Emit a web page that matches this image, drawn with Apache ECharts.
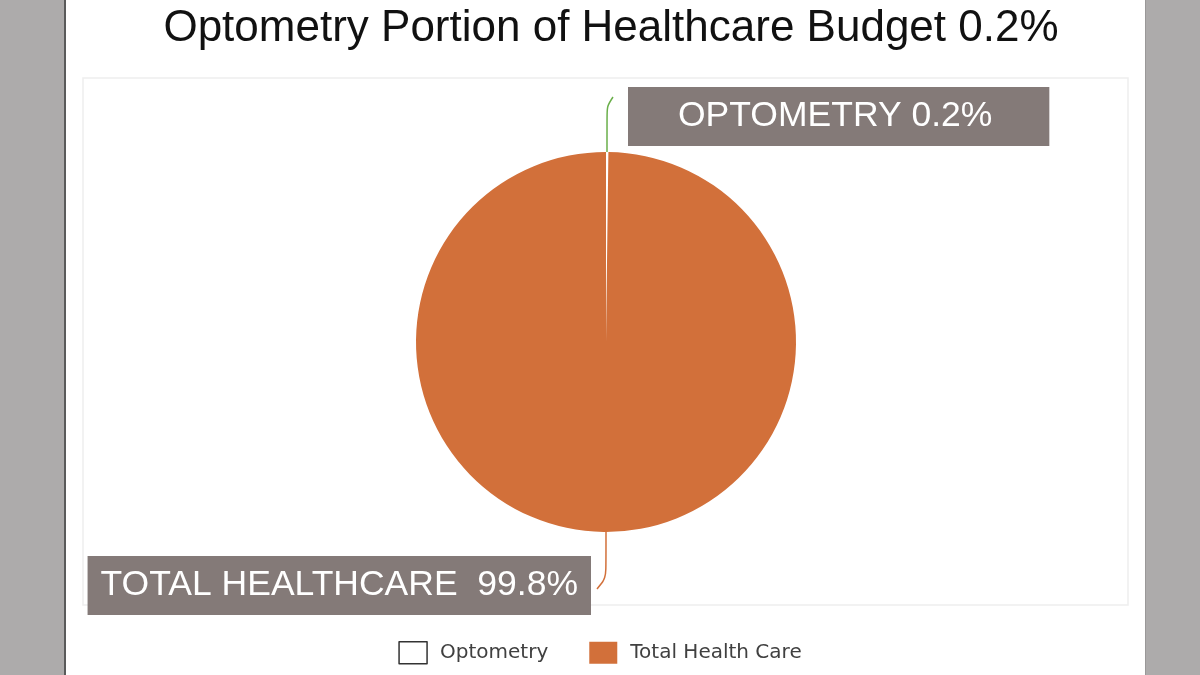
<!DOCTYPE html>
<html>
<head>
<meta charset="utf-8">
<script src="https://cdn.jsdelivr.net/npm/echarts@6/dist/echarts.min.js"></script>
<style>
  html, body { margin: 0; padding: 0; background: #fff; }
  #main { width: 1200px; height: 675px; }
</style>
</head>
<body>
<div id="main"></div>
<script>
// slice names, values and label text
var names = ['Optometry', 'Total Health Care'];
var values = [0.2, 99.8];
var labels = ['OPTOMETRY 0.2%', 'TOTAL HEALTHCARE  99.8%'];
var colors = ['#ffffff', '#d2703a'];
var lineColors = ['#6aaf4a', '#d2703a'];

var chart = echarts.init(document.getElementById('main'));

var pieData = names.map(function (n, i) {
  return {
    name: n,
    value: values[i],
    itemStyle: { color: colors[i] },
    label: { formatter: labels[i] },
    labelLine: { lineStyle: { color: lineColors[i], width: 1.5 } }
  };
});

var options = {
  backgroundColor: '#ffffff',
  animation: false,
  title: {
    text: 'Optometry Portion of Healthcare Budget 0.2%',
    left: 606,
    textAlign: 'center',
    top: 2,
    textStyle: {
      fontFamily: 'Liberation Sans',
      fontSize: 44,
      fontWeight: 'normal',
      color: '#111'
    }
  },
  legend: {
    top: 636,
    left: 'center',
    itemWidth: 28,
    itemHeight: 22,
    itemGap: 41,
    icon: 'rect',
    data: [
      { name: 'Optometry', itemStyle: { color: '#fff', borderColor: '#333', borderWidth: 1.5 } },
      { name: 'Total Health Care' }
    ],
    textStyle: {
      fontFamily: 'DejaVu Sans',
      fontSize: 20,
      color: '#404040',
      padding: [0, 0, 0, 8]
    }
  },
  graphic: [
    { type: 'rect', shape: { x: 0, y: 0, width: 64, height: 675 }, style: { fill: '#adabab' }, silent: true },
    { type: 'rect', shape: { x: 64, y: 0, width: 2, height: 675 }, style: { fill: '#5a5a5a' }, silent: true },
    { type: 'rect', shape: { x: 1146, y: 0, width: 54, height: 675 }, style: { fill: '#adabab' }, silent: true },
    { type: 'rect', shape: { x: 1145, y: 0, width: 1, height: 675 }, style: { fill: '#9a9898' }, silent: true },
    { type: 'rect', shape: { x: 83, y: 78, width: 1045, height: 527 }, style: { fill: 'none', stroke: '#eeeeee', lineWidth: 1.5 }, silent: true, z: -1 }
  ],
  series: [
    {
      name: 'budget',
      type: 'pie',
      center: [606, 342],
      radius: 190,
      startAngle: 90,
      clockwise: true,
      avoidLabelOverlap: false,
      minAngle: 0,
      data: pieData,
      label: {
        show: true,
        fontFamily: 'Liberation Sans',
        fontSize: 35.5,
        color: '#ffffff',
        backgroundColor: '#847a78',
        lineHeight: 41
      },
      labelLine: {
        show: true,
        smooth: 0.3
      },
      labelLayout: function (params) {
        if (params.dataIndex === 0) {
          return {
            x: 628, y: 116.5, align: 'left', verticalAlign: 'middle',
            labelLinePoints: [[607, 152], [607, 106], [613, 97]]
          };
        }
        return {
          x: 591, y: 585.5, align: 'right', verticalAlign: 'middle',
          labelLinePoints: [[606, 532], [606, 578], [597, 589]]
        };
      },
      emphasis: { disabled: true }
    }
  ]
};

// per-label box padding
options.series[0].data[0].label.padding = [9, 57, 9, 50];
options.series[0].data[1].label.padding = [9, 13, 9, 13];

chart.setOption(options);
</script>
</body>
</html>
